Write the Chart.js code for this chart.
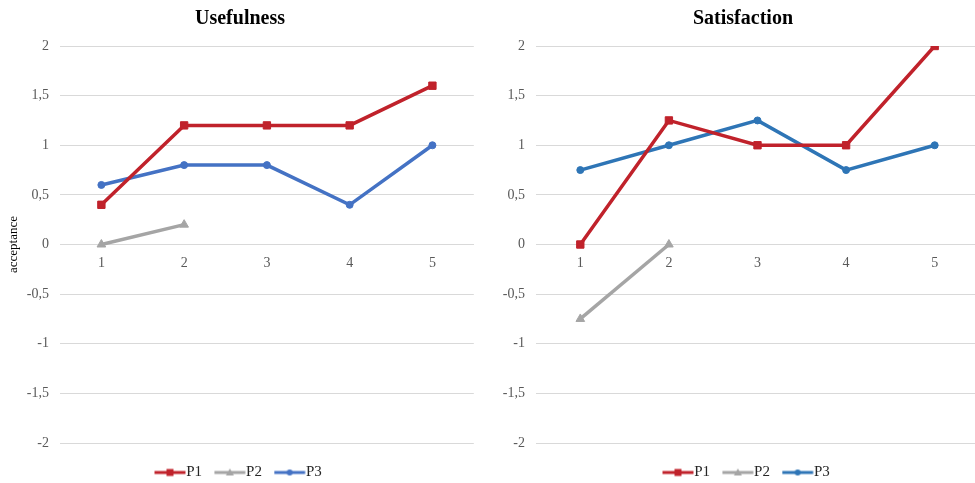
<!DOCTYPE html>
<html>
<head>
<meta charset="utf-8">
<script src="https://cdn.jsdelivr.net/npm/chart.js@4"></script>
<style>
  html, body { margin: 0; padding: 0; background: #fff; overflow: hidden; width: 975px; height: 483px; }
  canvas { position: absolute; top: 0; }
  #c1 { left: 0; }
  #c2 { left: 490px; }
</style>
</head>
<body>
<canvas id="c1" width="480" height="488"></canvas>
<canvas id="c2" width="506" height="488"></canvas>
<script>
// Session numbers on the horizontal axis
const categories = ['1', '2', '3', '4', '5'];
// Acceptance scale
const yMin = -2;
const yMax = 2;
const yStep = 0.5;

// Usefulness ratings per participant
const usefulnessP1 = [0.4, 1.2, 1.2, 1.2, 1.6];
const usefulnessP2 = [0, 0.2, null, null, null];
const usefulnessP3 = [0.6, 0.8, 0.8, 0.4, 1.0];

// Satisfaction ratings per participant
const satisfactionP1 = [0, 1.25, 1, 1, 2];
const satisfactionP2 = [-0.75, 0, null, null, null];
const satisfactionP3 = [0.75, 1, 1.25, 0.75, 1];

const seriesNames = ['P1', 'P2', 'P3'];

const RED = '#C0222B';
const GREY = '#A5A5A5';
const BLUE_A = '#4472C4';
const BLUE_B = '#2E75B6';
const SERIF = "'Liberation Serif', 'Times New Roman', serif";
const GRID = '#D9D9D9';
const TICK = '#595959';

// Legend swatch: short line with the series marker in its middle
function swatch(color, style) {
  const c = document.createElement('canvas');
  c.width = 33; c.height = 10;
  const g = c.getContext('2d');
  g.strokeStyle = color;
  g.fillStyle = color;
  g.lineWidth = 3;
  g.beginPath(); g.moveTo(0.5, 5); g.lineTo(31.5, 5); g.stroke();
  const cx = 16, cy = 5;
  g.beginPath();
  if (style === 'rect') {
    g.rect(cx - 3.5, cy - 3.5, 7, 7);
  } else if (style === 'triangle') {
    g.moveTo(cx, cy - 4); g.lineTo(cx + 4, cy + 3); g.lineTo(cx - 4, cy + 3); g.closePath();
  } else {
    g.arc(cx, cy, 3, 0, Math.PI * 2);
  }
  g.fill();
  return c;
}

// Nudges the legend block after layout
const legendNudge = {
  id: 'legendNudge',
  afterLayout(chart, args, opts) {
    const lg = chart.legend;
    if (!lg) return;
    lg.left += opts.dx; lg.right += opts.dx;
    lg.top += opts.dy; lg.bottom += opts.dy;
  }
};

function makeDataset(label, data, color, style, radius) {
  return {
    label,
    data,
    borderColor: color,
    backgroundColor: color,
    borderWidth: 3.5,
    pointStyle: style,
    pointRadius: radius,
    pointHoverRadius: radius,
    pointBackgroundColor: color,
    pointBorderColor: color,
    pointBorderWidth: 1,
    tension: 0,
    spanGaps: false,
    legendSwatch: swatch(color, style)
  };
}

function buildChart(canvasId, title, p1, p2, p3, blue, showYTitle, yWidth, rightGap, legendDx) {
  return new Chart(document.getElementById(canvasId), {
    type: 'line',
    data: {
      labels: categories,
      datasets: [
        makeDataset(seriesNames[0], p1, RED, 'rect', 5.2),
        makeDataset(seriesNames[1], p2, GREY, 'triangle', 5),
        makeDataset(seriesNames[2], p3, blue, 'circle', 3.5)
      ]
    },
    plugins: [legendNudge],
    options: {
      responsive: false,
      animation: false,
      events: [],
      layout: { padding: 0 },
      plugins: {
        legendNudge: { dx: legendDx, dy: 2 },
        title: {
          display: true,
          text: title,
          color: '#000',
          font: { family: SERIF, size: 20, weight: 'bold' },
          padding: { top: 7, bottom: 15 }
        },
        legend: {
          display: true,
          position: 'bottom',
          labels: {
            usePointStyle: true,
            pointStyleWidth: 16.5,
            padding: 20,
            color: '#262626',
            font: { family: SERIF, size: 15 },
            generateLabels(chart) {
              return chart.data.datasets.map((ds, i) => ({
                text: ds.label,
                pointStyle: ds.legendSwatch,
                fillStyle: ds.borderColor,
                strokeStyle: ds.borderColor,
                lineWidth: 0,
                fontColor: '#262626',
                hidden: false,
                datasetIndex: i
              }));
            }
          }
        },
        tooltip: { enabled: false }
      },
      scales: {
        x: {
          type: 'category',
          position: { y: 0 },
          offset: true,
          grid: { display: false, drawTicks: false },
          border: { display: true, color: GRID, width: 1 },
          ticks: {
            color: TICK,
            padding: 10,
            font: { family: SERIF, size: 14 }
          }
        },
        y: {
          min: yMin,
          max: yMax,
          afterFit(scale) { scale.width = yWidth; },
          afterBuildTicks(scale) {
            const t = [];
            for (let v = yMin; v <= yMax + 1e-9; v += yStep) t.push({ value: Math.round(v * 100) / 100 });
            scale.ticks = t;
          },
          grid: { color: GRID, lineWidth: 1, drawTicks: false },
          border: { display: false },
          ticks: {
            color: TICK,
            padding: 11,
            font: { family: SERIF, size: 14 },
            callback: (v) => String(v).replace('.', ',')
          },
          title: {
            display: showYTitle,
            text: 'acceptance',
            color: '#000',
            font: { family: SERIF, size: 13 },
            padding: { top: 6, bottom: 0 }
          }
        },
        // blank strip on the right edge of the plot
        yGap: {
          position: 'right',
          display: true,
          min: yMin,
          max: yMax,
          afterFit(scale) { scale.width = rightGap; },
          grid: { display: false, drawTicks: false },
          border: { display: false },
          ticks: { display: false }
        }
      }
    }
  });
}

buildChart('c1', 'Usefulness', usefulnessP1, usefulnessP2, usefulnessP3, BLUE_A, true, 60, 2.6, 2);
buildChart('c2', 'Satisfaction', satisfactionP1, satisfactionP2, satisfactionP3, BLUE_B, false, 46, 17, 7);
</script>
</body>
</html>
